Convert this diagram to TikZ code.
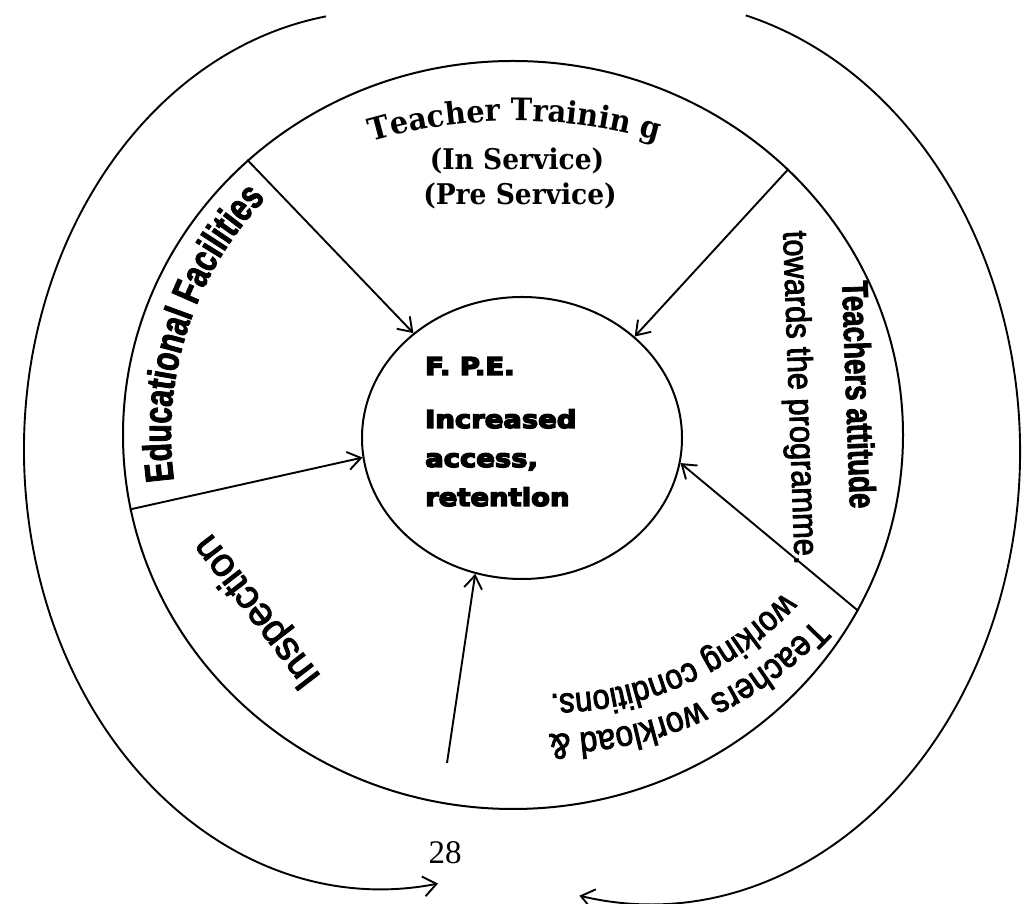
\documentclass[tikz,border=0pt]{standalone}
\usepackage{fontspec}
\setmainfont{Liberation Sans}
\newfontfamily\schfont[FakeStretch=0.93]{DejaVu Serif Bold}
\newfontfamily\narrowfont[FakeStretch=0.88,FakeBold=2.5]{Liberation Sans}
\newfontfamily\plainfont[FakeBold=2.5]{Liberation Sans}
\newfontfamily\narrowbold[FakeStretch=0.75,FakeBold=2]{Liberation Sans Bold}
\newfontfamily\heavyfont[FakeStretch=1.12,FakeBold=6]{DejaVu Sans Bold}
\newfontfamily\pagefont{Liberation Serif}
\usetikzlibrary{shapes.geometric,arrows.meta,decorations.text,calc}
\tikzset{
  ring/.style={draw, ellipse, inner sep=0pt, line width=2pt},
  spoke/.style={line width=1.9pt, -{Straight Barb[length=13pt,width=18pt]}},
  sweep/.style={line width=1.9pt, -{Straight Barb[length=13pt,width=20pt]}},
  fpetext/.style={anchor=base west, inner sep=0pt, font=\heavyfont\fontsize{24.5}{30}\selectfont},
  srv/.style={anchor=base, inner sep=0pt, font=\schfont\fontsize{28.5}{32}\selectfont},
}
\begin{document}
\begin{tikzpicture}[x=1pt,y=1pt]
\useasboundingbox (0,0) rectangle (1025,904);
% centres
\coordinate (C) at (513,469);
\coordinate (OL) at (382,454);
\coordinate (OR) at (650,452);
\coordinate (W) at (551,528);
\coordinate (TT) at (515,267);
% rings
\node[ring, minimum width=780pt, minimum height=748pt] (mid) at (C) {};
\node[ring, minimum width=320pt, minimum height=282pt] (inner) at (522,466) {};
% spokes
\draw[spoke] (mid.134) -- (inner.136);
\draw[spoke] (mid.44) -- (inner.42);
\draw[spoke] (mid.191) -- (inner.187);
\draw[spoke] (mid.333) -- (inner.351);
\coordinate (ebot) at (447,141);
\draw[spoke] (ebot) -- (inner.251);
% outer sweeping arrows
\draw[sweep] ($(OL)+(99:358pt and 439pt)$) arc[start angle=99, end angle=279, x radius=358pt, y radius=439pt];
\draw[sweep] ($(OR)+(75:370pt and 452pt)$) arc[start angle=75, end angle=-101, x radius=370pt, y radius=452pt];
% centre text
\node[fpetext] (f1) at (425,529) {F. P.E.};
\node[fpetext] (f2) at (425,476) {Increased};
\node[fpetext] (f3) at (425,437) {access,};
\node[fpetext] (f4) at (425,398) {retention};
% teacher training
\path[decorate, decoration={text along path, text align=center,
  text={|\schfont\fontsize{31}{34}\selectfont|Teacher Trainin g}}]
  ($(TT)+(112:516pt)$) arc[start angle=112, end angle=68, radius=516pt];
\node[srv] (s1) at (517,734) {(In Service)};
\node[srv] (s2) at (520,699) {(Pre Service)};
% educational facilities
\path[decorate, decoration={text along path, text align=center,
  text={|\narrowbold\fontsize{40}{42}\selectfont|Educational Facilities}}]
  ($(C)+(202:342pt)$) arc[start angle=202, end angle=122, radius=342pt];
% teachers attitude
\node[rotate=-88, anchor=base, inner sep=0pt, font=\narrowbold\fontsize{37}{40}\selectfont] (att1) at (846,509) {Teachers attitude};
\node[rotate=-88, anchor=base, inner sep=0pt, font=\narrowfont\fontsize{35}{40}\selectfont] (att2) at (789,506) {towards the programme.};
% workload
\path[decorate, decoration={text along path, text align=center,
  text={|\narrowfont\fontsize{36}{38}\selectfont|Teachers workload {\&}}}]
  ($(W)+(-23:358pt)$) arc[start angle=-23, end angle=-110, radius=358pt];
\path[decorate, decoration={text along path, text align=center,
  text={|\narrowfont\fontsize{35}{37}\selectfont|working conditions.}}]
  ($(W)+(-23:318pt)$) arc[start angle=-23, end angle=-110, radius=318pt];
% inspection
\node[rotate=127.6, inner sep=0pt, font=\plainfont\fontsize{40}{42}\selectfont] (insp) at (258,293) {Inspection};
% page number
\node[inner sep=0pt, font=\pagefont\fontsize{33}{36}\selectfont] (pg) at (445,51) {28};
\end{tikzpicture}
\end{document}
